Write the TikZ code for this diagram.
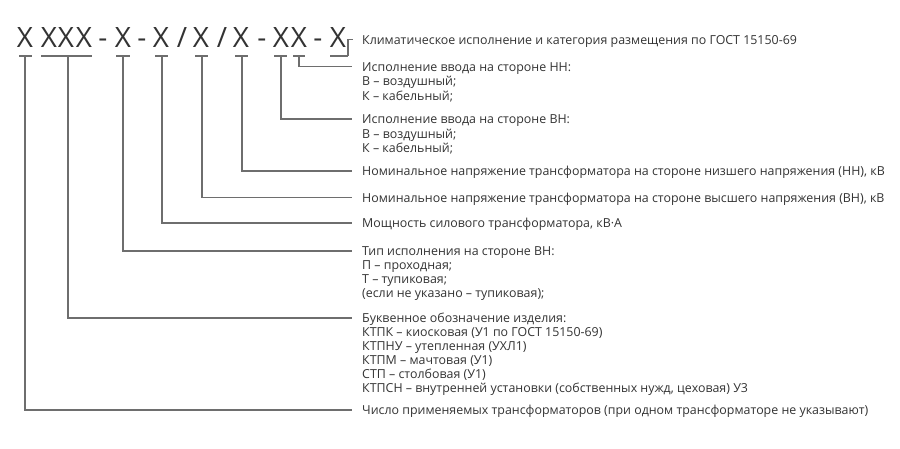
\documentclass[tikz,border=0pt]{standalone}
\usepackage{fontspec}
\setmainfont{Open Sans}
\definecolor{txt}{HTML}{333333}
\definecolor{ln}{HTML}{6E6E6E}
\begin{document}
\begin{tikzpicture}[x=1pt,y=-1pt,
  codech/.style={font=\fontsize{28}{30}\selectfont, text=txt, inner sep=0pt, anchor=base},
  desc/.style={font=\fontsize{12.4}{14}\selectfont, text=txt, inner sep=0pt, anchor=base west, text height=9pt, text depth=0pt},
  conn/.style={draw=ln, line width=1.1pt},
  uline/.style={draw=ln, line width=1.1pt}]
\useasboundingbox (0,0) rectangle (900,448);
% code characters
\node[codech] (c1) at (25,47) {Х};
\node[codech] (c2a) at (49,47) {Х};
\node[codech] (c2) at (66,47) {Х};
\node[codech] (c2b) at (84,47) {Х};
\node[codech] (d1) at (103,47) {-};
\node[codech] (c3) at (123,47) {Х};
\node[codech] (d2) at (142,47) {-};
\node[codech] (c4) at (161,47) {Х};
\node[codech] (s1) at (182,47) {/};
\node[codech] (c5) at (201,47) {Х};
\node[codech] (s2) at (222,47) {/};
\node[codech] (c6) at (241,47) {Х};
\node[codech] (d3) at (262,47) {-};
\node[codech] (c7) at (281,47) {Х};
\node[codech] (c8) at (299,47) {Х};
\node[codech] (d4) at (318,47) {-};
\node[codech] (c9) at (338,47) {Х};
% underline anchor coordinates
\coordinate (u1) at (25,56);
\coordinate (u2) at (68,56);
\coordinate (u3) at (123,56);
\coordinate (u4) at (162,56);
\coordinate (u5) at (202,56);
\coordinate (u6) at (242,56);
\coordinate (u7) at (281,56);
\coordinate (u8) at (299,56);
\coordinate (u9) at (348,56);
% underlines
\draw[uline] (19,56) -- (32,56);
\draw[uline] (41,56) -- (92,56);
\draw[uline] (116,56) -- (130,56);
\draw[uline] (155,56) -- (168,56);
\draw[uline] (195,56) -- (208,56);
\draw[uline] (235,56) -- (248,56);
\draw[uline] (274,56) -- (287,56);
\draw[uline] (293,56) -- (305,56);
\draw[uline] (330,56) -- (u9);
% descriptions
\node[desc] (t9) at (362,44) {Климатическое исполнение и категория размещения по ГОСТ 15150-69};
\node[desc] (t8) at (362,71) {Исполнение ввода на стороне НН:};
\node[desc] (t8a) at (362,85.5) {В – воздушный;};
\node[desc] (t8b) at (362,100) {К – кабельный;};
\node[desc] (t7) at (362,123.5) {Исполнение ввода на стороне ВН:};
\node[desc] (t7a) at (362,138) {В – воздушный;};
\node[desc] (t7b) at (362,152.5) {К – кабельный;};
\node[desc] (t6) at (362,175.5) {Номинальное напряжение трансформатора на стороне низшего напряжения (НН), кВ};
\node[desc] (t5) at (362,202) {Номинальное напряжение трансформатора на стороне высшего напряжения (ВН), кВ};
\node[desc] (t4) at (362,227.5) {Мощность силового трансформатора, кВ·А};
\node[desc] (t3) at (362,255.5) {Тип исполнения на стороне ВН:};
\node[desc] (t3a) at (362,269.5) {П – проходная;};
\node[desc] (t3b) at (362,283.5) {Т – тупиковая;};
\node[desc] (t3c) at (362,297.5) {(если не указано – тупиковая);};
\node[desc] (t2) at (362,322.5) {Буквенное обозначение изделия:};
\node[desc] (t2a) at (362,336.5) {КТПК – киосковая (У1 по ГОСТ 15150-69)};
\node[desc] (t2b) at (362,350.5) {КТПНУ – утепленная (УХЛ1)};
\node[desc] (t2c) at (362,364.5) {КТПМ – мачтовая (У1)};
\node[desc] (t2d) at (362,378.5) {СТП – столбовая (У1)};
\node[desc] (t2e) at (362,392.5) {КТПСН – внутренней установки (собственных нужд, цеховая) У3};
\node[desc] (t1) at (362,414.5) {Число применяемых трансформаторов (при одном трансформаторе не указывают)};
% connectors
\draw[conn] (u1) |- ([xshift=-10pt]t1.west);
\draw[conn] (u2) |- ([xshift=-10pt]t2.west);
\draw[conn] (u3) |- ([xshift=-10pt]t3.west);
\draw[conn] (u4) |- ([xshift=-10pt]t4.west);
\draw[conn] (u5) |- ([xshift=-10pt]t5.west);
\draw[conn] (u6) |- ([xshift=-10pt]t6.west);
\draw[conn] (u7) |- ([xshift=-10pt]t7.west);
\draw[conn] (u8) |- ([xshift=-10pt]t8.west);
\draw[conn] (u9) |- ([xshift=-9pt]t9.west);
\end{tikzpicture}
\end{document}
